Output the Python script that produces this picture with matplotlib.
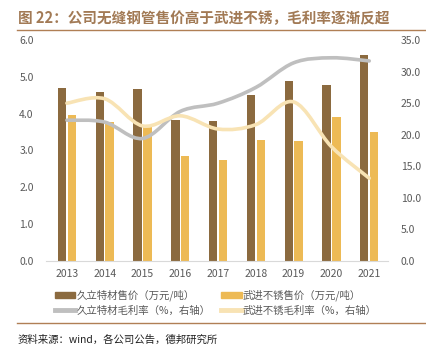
import numpy as np
import matplotlib.pyplot as plt
from matplotlib.path import Path
from matplotlib.patches import PathPatch, Patch
from matplotlib.lines import Line2D

plt.rcParams['font.family'] = ['Noto Sans CJK SC', 'DejaVu Sans']

# données
annees = ['2013', '2014', '2015', '2016', '2017', '2018', '2019', '2020', '2021']
prix_jiuli = [4.71, 4.58, 4.67, 3.83, 3.81, 4.50, 4.88, 4.78, 5.60]
prix_wujin = [3.96, 3.78, 3.63, 2.85, 2.74, 3.28, 3.26, 3.91, 3.51]
marge_jiuli = [22.3, 22.0, 19.4, 23.7, 25.0, 27.5, 31.4, 32.2, 31.7]
marge_wujin = [25.0, 25.7, 21.4, 23.0, 20.9, 21.6, 25.2, 18.1, 13.1]

c_brun = '#8B6A3F'
c_jaune = '#EDBA55'
c_gris = '#BFBFBF'
c_creme = '#F8E3B4'
c_titre = '#A27A55'
c_texte = '#595959'


def courbe_lisse(ax, xs, ys, color, lw):
    # courbe de Bézier type "lissage Excel" (Catmull-Rom)
    pts = np.column_stack([xs, ys]).astype(float)
    p = np.vstack([pts[0], pts, pts[-1]])
    verts = [pts[0]]
    codes = [Path.MOVETO]
    for i in range(1, len(p) - 2):
        c1 = p[i] + (p[i + 1] - p[i - 1]) / 6
        c2 = p[i + 1] - (p[i + 2] - p[i]) / 6
        verts += [c1, c2, p[i + 1]]
        codes += [Path.CURVE4] * 3
    patch = PathPatch(Path(verts, codes), facecolor='none', edgecolor=color,
                      lw=lw, capstyle='round', zorder=3)
    ax.add_patch(patch)


fig = plt.figure(figsize=(4.27, 3.52), dpi=100)
ax = fig.add_axes([0.108, 0.259, 0.801, 0.627])
x = np.arange(len(annees))
w = 0.22
ax.bar(x - 0.13, prix_jiuli, w, color=c_brun, zorder=2)
ax.bar(x + 0.13, prix_wujin, w, color=c_jaune, zorder=2)
ax.set_ylim(0, 6)
ax.set_xlim(-0.55, 8.5)
ax.set_yticks(np.arange(0, 6.01, 1.0))
ax.set_yticklabels(['%.1f' % v for v in np.arange(0, 6.01, 1.0)])
ax.set_xticks(x)
ax.set_xticklabels(annees)

ax2 = ax.twinx()
ax2.set_ylim(0, 35)
ax2.set_yticks(np.arange(0, 35.01, 5))
ax2.set_yticklabels(['%.1f' % v for v in np.arange(0, 35.01, 5)])
courbe_lisse(ax2, x, marge_jiuli, c_gris, 2.6)
courbe_lisse(ax2, x, marge_wujin, c_creme, 2.6)

for a in (ax, ax2):
    for s in a.spines.values():
        s.set_visible(False)
    a.tick_params(length=0, labelsize=7.5, colors=c_texte)
ax.spines['bottom'].set_visible(True)
ax.spines['bottom'].set_color('#D9D9D9')
ax.tick_params(axis='y', pad=9)
ax2.tick_params(axis='y', pad=9)
ax.tick_params(axis='x', pad=6)

# titre et filets
fig.text(0.042, 0.95, '图 22：公司无缝钢管售价高于武进不锈，毛利率逐渐反超',
         fontsize=10.5, color=c_titre, fontweight='bold', va='center')
fig.add_artist(Line2D([0.04, 1.0], [0.915, 0.915], color='#B07F55', lw=1.0))
fig.add_artist(Line2D([0.04, 1.0], [0.082, 0.082], color='#B07F55', lw=1.0))

handles = [Patch(color=c_brun), Patch(color=c_jaune),
           Line2D([], [], color=c_gris, lw=3.5), Line2D([], [], color=c_creme, lw=3.5)]
labels = ['久立特材售价（万元/吨）', '武进不锈售价（万元/吨）',
          '久立特材毛利率（%，右轴）', '武进不锈毛利率（%，右轴）']
order = [0, 2, 1, 3]
fig.legend([handles[i] for i in order], [labels[i] for i in order],
           loc='center', bbox_to_anchor=(0.505, 0.14), ncol=2, frameon=False,
           fontsize=7.5, handlelength=2.0, handleheight=0.45, handletextpad=0.1,
           columnspacing=1.0, labelspacing=0.4, labelcolor=c_texte)

fig.text(0.042, 0.035, '资料来源：wind，各公司公告，德邦研究所', fontsize=7.5,
         color='#222222', va='center')

fig.savefig('out.png', dpi=100)
